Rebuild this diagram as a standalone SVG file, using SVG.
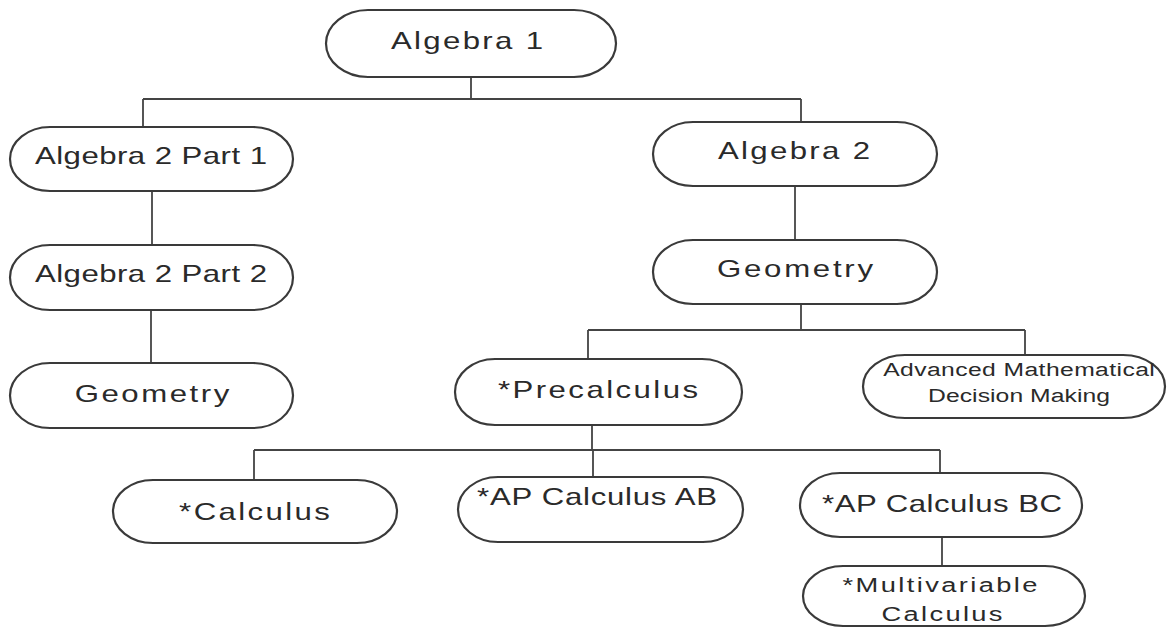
<svg xmlns="http://www.w3.org/2000/svg" width="1167" height="629" viewBox="0 0 1167 629">
<style>
.node rect{fill:#fff;stroke:#3a3a3a;stroke-width:2.2}
.node text{font-family:"Liberation Sans",Arial,sans-serif;font-size:24px;fill:#2a2a2a;text-anchor:middle}
.node text.s{font-size:19px}
.node text.m{font-size:21px}
#connectors path{fill:none;stroke:#444;stroke-width:1.8}
</style>
<rect width="1167" height="629" fill="#fff"/>
<g id="connectors">
<path d="M471,77 V99 M143,99 H801 M143,99 V127 M801,99 V122"/>
<path d="M152,191 V245"/>
<path d="M151,310 V363"/>
<path d="M795,186 V240"/>
<path d="M801,304 V330 M588,330 H1025 M588,330 V359 M1025,330 V355"/>
<path d="M592,425 V450 M254,450 H940 M254,450 V480 M593,450 V477 M940,450 V473"/>
<path d="M942,537 V566"/>
</g>
<g id="n-algebra1" class="node">
<rect x="326" y="10" width="290" height="67" rx="42" ry="33.5"/>
<text transform="translate(467 49) scale(1.3 1)" textLength="117" lengthAdjust="spacing">Algebra 1</text>
</g>
<g id="n-alg2p1" class="node">
<rect x="10" y="127" width="283" height="64" rx="40" ry="32"/>
<text transform="translate(151 164) scale(1.3 1)" textLength="178.5" lengthAdjust="spacing">Algebra 2 Part 1</text>
</g>
<g id="n-alg2p2" class="node">
<rect x="10" y="245" width="283" height="65" rx="40" ry="32.5"/>
<text transform="translate(151 282) scale(1.3 1)" textLength="178.5" lengthAdjust="spacing">Algebra 2 Part 2</text>
</g>
<g id="n-geometry-left" class="node">
<rect x="10" y="363" width="283" height="65" rx="40" ry="32.5"/>
<text transform="translate(152 402) scale(1.3 1)" textLength="119" lengthAdjust="spacing">Geometry</text>
</g>
<g id="n-algebra2" class="node">
<rect x="653" y="122" width="284" height="64" rx="40" ry="32"/>
<text transform="translate(794 159) scale(1.3 1)" textLength="117" lengthAdjust="spacing">Algebra 2</text>
</g>
<g id="n-geometry-right" class="node">
<rect x="653" y="240" width="284" height="64" rx="40" ry="32"/>
<text transform="translate(795 277) scale(1.3 1)" textLength="120" lengthAdjust="spacing">Geometry</text>
</g>
<g id="n-precalculus" class="node">
<rect x="455" y="359" width="287" height="66" rx="40" ry="33"/>
<text transform="translate(598 398) scale(1.3 1)" textLength="154" lengthAdjust="spacing">*Precalculus</text>
</g>
<g id="n-amdm" class="node">
<rect x="863" y="355" width="302" height="63" rx="42" ry="31.5"/>
<text class="s" transform="translate(1019 376) scale(1.3 1)" textLength="209" lengthAdjust="spacing">Advanced Mathematical</text>
<text class="s" transform="translate(1019 402) scale(1.3 1)" textLength="140" lengthAdjust="spacing">Decision Making</text>
</g>
<g id="n-calculus" class="node">
<rect x="113" y="480" width="284" height="63" rx="40" ry="31.5"/>
<text transform="translate(254.5 520) scale(1.3 1)" textLength="116" lengthAdjust="spacing">*Calculus</text>
</g>
<g id="n-apab" class="node">
<rect x="458" y="477" width="285" height="65" rx="40" ry="32.5"/>
<text transform="translate(597 505) scale(1.3 1)" textLength="184.6" lengthAdjust="spacing">*AP Calculus AB</text>
</g>
<g id="n-apbc" class="node">
<rect x="800" y="473" width="282" height="64" rx="40" ry="32"/>
<text transform="translate(942 512) scale(1.3 1)" textLength="184.6" lengthAdjust="spacing">*AP Calculus BC</text>
</g>
<g id="n-multivariable" class="node">
<rect x="803" y="566" width="282" height="60" rx="40" ry="30"/>
<text class="m" transform="translate(940 592) scale(1.3 1)" textLength="150" lengthAdjust="spacing">*Multivariable</text>
<text class="m" transform="translate(942 621) scale(1.3 1)" textLength="93" lengthAdjust="spacing">Calculus</text>
</g>
</svg>
